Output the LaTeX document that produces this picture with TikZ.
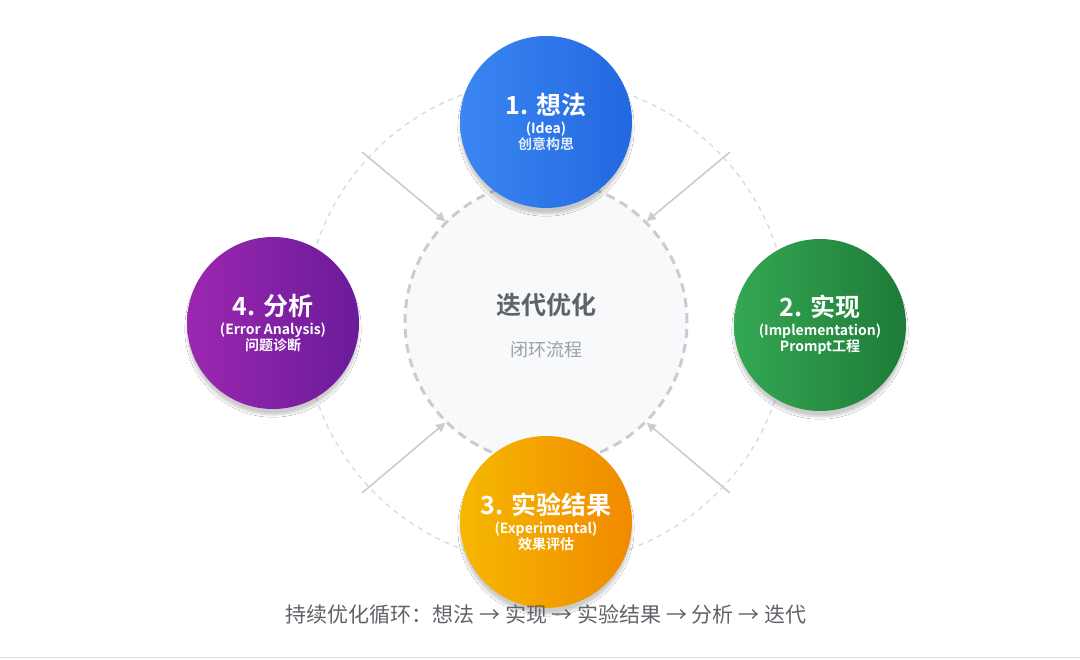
\documentclass[tikz,border=0pt]{standalone}
\usepackage{fontspec}
\setmainfont{Noto Sans CJK SC}
\newfontfamily\cjkbold{Noto Sans CJK SC Bold}
\usetikzlibrary{arrows.meta,shadows.blur}
\definecolor{ideaA}{HTML}{3B86F2}
\definecolor{ideaB}{HTML}{2268E0}
\definecolor{implA}{HTML}{34A853}
\definecolor{implB}{HTML}{1E7B38}
\definecolor{expA}{HTML}{F6B800}
\definecolor{expB}{HTML}{F08A00}
\definecolor{anaA}{HTML}{9C27B0}
\definecolor{anaB}{HTML}{6A1B9A}
\definecolor{ringgray}{HTML}{C9CDD1}
\definecolor{titlegray}{HTML}{5F6368}
\definecolor{subgray}{HTML}{9AA0A6}
\tikzset{
  stage/.style={circle, minimum size=172pt, inner sep=0pt, text=white, align=center,
    blur shadow={shadow blur steps=8, shadow xshift=0pt, shadow yshift=-6pt, shadow opacity=20}},
  flow/.style={draw=ringgray, line width=1.6pt, -{Triangle[length=9pt,width=9pt]}},
  big/.style={font=\cjkbold\fontsize{25}{30}\selectfont},
}
\begin{document}
\begin{tikzpicture}[x=1pt,y=-1pt]
\useasboundingbox (0,0) rectangle (1080,660);
\fill[white] (0,0) rectangle (1080,660);
\draw[ringgray!70, line width=1.4pt, dash pattern=on 5pt off 5pt] (546,322) circle (242);
\draw[ringgray!60, line width=1pt] (0,657) -- (1080,657);
% centre
\node (core) [circle, minimum size=282pt, fill={rgb,255:red,248;green,249;blue,250}, draw=ringgray, line width=3pt, dash pattern=on 9pt off 6pt, align=center] at (546,322) {};
\node (coretitle) [text=titlegray, font=\cjkbold\fontsize{25}{30}\selectfont] at (546,305) {迭代优化};
\node (coresub) [text=subgray, font=\fontsize{18}{22}\selectfont] at (546,350) {闭环流程};
% stages
\node (idea) [stage, left color=ideaA, right color=ideaB] at (546,122)
  {{\cjkbold\fontsize{25}{32}\selectfont 1. 想法}\\[4pt]{\cjkbold\fontsize{14}{20}\selectfont (Idea)}\\{\cjkbold\fontsize{14}{20}\selectfont\color{white!85!ideaA} 创意构思}};
\node (impl) [stage, left color=implA, right color=implB] at (820,325)
  {{\cjkbold\fontsize{25}{32}\selectfont 2. 实现}\\[4pt]{\cjkbold\fontsize{14}{20}\selectfont (Implementation)}\\{\cjkbold\fontsize{14}{20}\selectfont Prompt工程}};
\node (exp) [stage, left color=expA, right color=expB] at (546,522)
  {{\cjkbold\fontsize{25}{32}\selectfont 3. 实验结果}\\[4pt]{\cjkbold\fontsize{14}{20}\selectfont (Experimental)}\\{\cjkbold\fontsize{14}{20}\selectfont 效果评估}};
\node (ana) [stage, left color=anaA, right color=anaB] at (273,323)
  {{\cjkbold\fontsize{25}{32}\selectfont 4. 分析}\\[4pt]{\cjkbold\fontsize{14}{20}\selectfont (Error Analysis)}\\{\cjkbold\fontsize{14}{20}\selectfont 问题诊断}};
% connectors into the loop
\coordinate (tl) at (362,152);
\coordinate (tr) at (730,152);
\coordinate (bl) at (362,493);
\coordinate (br) at (730,493);
\draw[flow] (tl) -- (core.135);
\draw[flow] (tr) -- (core.45);
\draw[flow] (bl) -- (core.225);
\draw[flow] (br) -- (core.315);
\node (caption) [text=titlegray, font=\fontsize{21}{26}\selectfont] at (546,615) {持续优化循环：想法 → 实现 → 实验结果 → 分析 → 迭代};
\end{tikzpicture}
\end{document}
